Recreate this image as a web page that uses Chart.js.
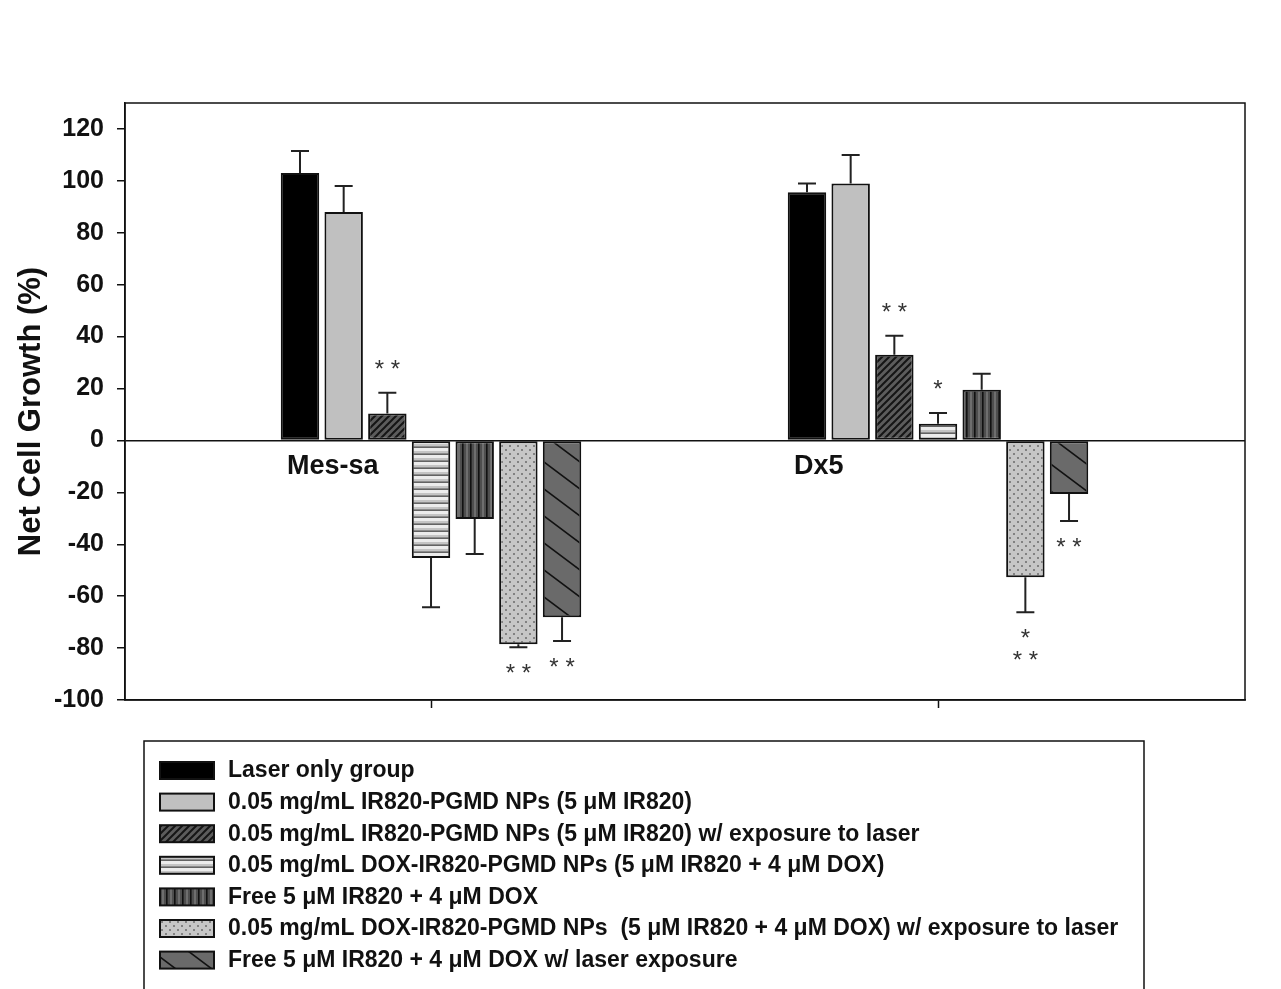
<!DOCTYPE html>
<html lang="en">
<head>
    <meta charset="UTF-8">
    <title>Net Cell Growth</title>
    <script src="https://cdn.jsdelivr.net/npm/chart.js"></script>
    <style>
        html, body { margin: 0; padding: 0; background: #fff; }
        canvas { display: block; }
    </style>
</head>
<body>
    <canvas id="growthChart" width="1281" height="989"></canvas>

    <script>
        // categories and their positions on the x axis
        const categories = ['Mes-sa', 'Dx5'];
        const catPos = [0, 1];
        const yTicks = [-100, -80, -60, -40, -20, 0, 20, 40, 60, 80, 100, 120];

        const seriesLabels = [
            'Laser only group',
            '0.05 mg/mL IR820-PGMD NPs (5 \u03bcM IR820)',
            '0.05 mg/mL IR820-PGMD NPs (5 \u03bcM IR820) w/ exposure to laser',
            '0.05 mg/mL DOX-IR820-PGMD NPs (5 \u03bcM IR820 + 4 \u03bcM DOX)',
            'Free 5 \u03bcM IR820 + 4 \u03bcM DOX',
            '0.05 mg/mL DOX-IR820-PGMD NPs  (5 \u03bcM IR820 + 4 \u03bcM DOX) w/ exposure to laser',
            'Free 5 \u03bcM IR820 + 4 \u03bcM DOX w/ laser exposure'
        ];

        // mean values (Mes-sa, Dx5)
        const laserOnly     = [103, 95.6];
        const npOnly        = [88, 99];
        const npLaser       = [10.4, 33];
        const doxNp         = [-45.3, 6.4];
        const freeDrug      = [-30.3, 19.5];
        const doxNpLaser    = [-78.5, -52.7];
        const freeDrugLaser = [-68.1, -20.6];

        // error (one-sided, away from zero)
        const laserOnlyErr     = [8.5, 3.4];
        const npOnlyErr        = [10, 11];
        const npLaserErr       = [8, 7.3];
        const doxNpErr         = [19, 4.2];
        const freeDrugErr      = [13.5, 6.2];
        const doxNpLaserErr    = [1.2, 13.5];
        const freeDrugLaserErr = [9.2, 10.4];

        // significance marks
        const laserOnlySig     = ['', ''];
        const npOnlySig        = ['', ''];
        const npLaserSig       = ['**', '**'];
        const doxNpSig         = ['', '*'];
        const freeDrugSig      = ['', ''];
        const doxNpLaserSig    = ['**', '*\n**'];
        const freeDrugLaserSig = ['**', '**'];

        const FONT = "'Liberation Sans', Arial, sans-serif";

        function makePattern(w, h, bg, draw) {
            const c = document.createElement('canvas');
            c.width = w; c.height = h;
            const g = c.getContext('2d');
            g.fillStyle = bg;
            g.fillRect(0, 0, w, h);
            if (draw) draw(g, w, h);
            return g.createPattern(c, 'repeat');
        }

        function diagonal(g, w, h, up, color, lw) {
            g.strokeStyle = color;
            g.lineWidth = lw;
            g.beginPath();
            for (let k = -1; k <= 1; k++) {
                for (let m = -1; m <= 1; m++) {
                    if (up) {
                        g.moveTo(k * w, h + m * h);
                        g.lineTo(k * w + w, m * h);
                    } else {
                        g.moveTo(k * w, m * h);
                        g.lineTo(k * w + w, h + m * h);
                    }
                }
            }
            g.stroke();
        }

        const fills = [
            '#000000',
            '#c0c0c0',
            makePattern(7, 7, '#5c5c5c', (g, w, h) => diagonal(g, w, h, true, '#151515', 2)),
            makePattern(8, 7, '#ececec', (g) => {
                g.fillStyle = '#c4c4c4'; g.fillRect(0, 3, 8, 2);
                g.fillStyle = '#2a2a2a'; g.fillRect(0, 5.5, 8, 1.2);
            }),
            makePattern(8, 8, '#4e4e4e', (g) => {
                g.fillStyle = '#6e6e6e'; g.fillRect(2, 0, 2, 8);
                g.fillStyle = '#111'; g.fillRect(6, 0, 1.6, 8);
            }),
            makePattern(8, 8, '#c6c6c6', (g) => {
                g.fillStyle = '#6a6a6a';
                g.beginPath(); g.arc(2, 2, 1, 0, Math.PI * 2); g.fill();
                g.beginPath(); g.arc(6, 6, 1, 0, Math.PI * 2); g.fill();
            }),
            makePattern(36, 27, '#6a6a6a', (g, w, h) => diagonal(g, w, h, false, '#111', 1.6))
        ];

        const values = [laserOnly, npOnly, npLaser, doxNp, freeDrug, doxNpLaser, freeDrugLaser];
        const errors = [laserOnlyErr, npOnlyErr, npLaserErr, doxNpErr, freeDrugErr, doxNpLaserErr, freeDrugLaserErr];
        const sigs = [laserOnlySig, npOnlySig, npLaserSig, doxNpSig, freeDrugSig, doxNpLaserSig, freeDrugLaserSig];

        const datasets = values.map((vals, i) => ({
            label: seriesLabels[i],
            data: vals.map((v, j) => ({ x: catPos[j], y: v })),
            backgroundColor: fills[i],
            borderColor: '#111',
            borderWidth: 2,
            borderSkipped: false,
            categoryPercentage: 0.603,
            barPercentage: 0.88
        }));

        // error bars, asterisks, category labels, frame and legend
        const extras = {
            id: 'extras',
            afterDatasetsDraw(chart) {
                const ctx = chart.ctx;
                const y = chart.scales.y;
                ctx.save();
                ctx.strokeStyle = '#222';
                ctx.lineWidth = 2;
                chart.data.datasets.forEach((ds, i) => {
                    const meta = chart.getDatasetMeta(i);
                    meta.data.forEach((el, j) => {
                        const v = values[i][j];
                        const end = v >= 0 ? v + errors[i][j] : v - errors[i][j];
                        const y0 = y.getPixelForValue(v);
                        const y1 = y.getPixelForValue(end);
                        ctx.beginPath();
                        ctx.moveTo(el.x, y0);
                        ctx.lineTo(el.x, y1);
                        ctx.moveTo(el.x - 9, y1);
                        ctx.lineTo(el.x + 9, y1);
                        ctx.stroke();

                        const mark = sigs[i][j];
                        if (mark) {
                            ctx.fillStyle = '#333';
                            ctx.font = '24px ' + FONT;
                            ctx.textAlign = 'center';
                            ctx.textBaseline = 'alphabetic';
                            const lines = mark.split('\n');
                            lines.forEach((t, k) => {
                                let cy;
                                if (v >= 0) cy = y1 - 30 - (lines.length - 1 - k) * 22;
                                else cy = y1 + 20 + k * 22;
                                ctx.fillText(t.split('').join(' '), el.x, cy + 14);
                            });
                        }
                    });
                });
                ctx.restore();
            },
            afterDraw(chart) {
                const ctx = chart.ctx;
                const a = chart.chartArea;
                const x = chart.scales.x;
                const y = chart.scales.y;
                ctx.save();
                ctx.strokeStyle = '#111';
                ctx.lineWidth = 1.5;
                ctx.strokeRect(a.left, a.top, a.right - a.left, a.bottom - a.top);

                // y axis title
                ctx.fillStyle = '#111';
                ctx.font = 'bold 31px ' + FONT;
                ctx.textAlign = 'center';
                ctx.textBaseline = 'middle';
                ctx.translate(31, (a.top + a.bottom) / 2 + 10);
                ctx.rotate(-Math.PI / 2);
                ctx.fillText('Net Cell Growth (%)', 0, 0);
                ctx.setTransform(1, 0, 0, 1, 0, 0);

                ctx.font = 'bold 27px ' + FONT;
                ctx.textAlign = 'left';
                categories.forEach((c, i) => {
                    ctx.fillText(c, x.getPixelForValue(catPos[i] - 0.284), y.getPixelForValue(0) + 26);
                });

                // legend box
                const lx = 144, ly = 741;
                ctx.lineWidth = 1.5;
                ctx.strokeRect(lx, ly, 1000, 270);
                ctx.font = 'bold 23px ' + FONT;
                seriesLabels.forEach((lab, i) => {
                    const sy = 762 + i * 31.6;
                    ctx.fillStyle = fills[i];
                    ctx.fillRect(160, sy, 54, 17);
                    ctx.strokeStyle = '#111';
                    ctx.lineWidth = 2;
                    ctx.strokeRect(160, sy, 54, 17);
                    ctx.fillStyle = '#111';
                    ctx.fillText(lab, 228, sy + 9);
                });
                ctx.restore();
            }
        };

        new Chart(document.getElementById('growthChart'), {
            type: 'bar',
            data: { datasets },
            plugins: [extras],
            options: {
                responsive: false,
                animation: false,
                devicePixelRatio: 1,
                layout: { padding: { top: 103, right: 36, left: 0, bottom: 0 } },
                plugins: {
                    legend: { display: false },
                    tooltip: { enabled: false }
                },
                scales: {
                    x: {
                        type: 'linear',
                        min: -0.6036,
                        max: 1.6055,
                        offset: false,
                        afterBuildTicks: s => { s.ticks = catPos.map(v => ({ value: v })); },
                        afterFit: s => { s.height = 289; },
                        ticks: { display: false },
                        grid: {
                            drawOnChartArea: false,
                            offset: false,
                            tickLength: 8,
                            tickColor: '#111',
                            tickWidth: 1.5
                        },
                        border: { color: '#111', width: 1.5 }
                    },
                    y: {
                        min: -100,
                        max: 130,
                        afterBuildTicks: s => { s.ticks = yTicks.map(v => ({ value: v })); },
                        afterFit: s => { s.width = 125; },
                        ticks: {
                            color: '#111',
                            padding: 13,
                            font: { family: FONT, size: 25, weight: 'bold' }
                        },
                        grid: {
                            color: c => (c.tick && c.tick.value === 0 ? '#111' : 'rgba(0,0,0,0)'),
                            lineWidth: 1.5,
                            tickLength: 8,
                            tickColor: '#111',
                            tickWidth: 1.5
                        },
                        border: { color: '#111', width: 1.5 }
                    }
                }
            }
        });
    </script>
</body>
</html>
